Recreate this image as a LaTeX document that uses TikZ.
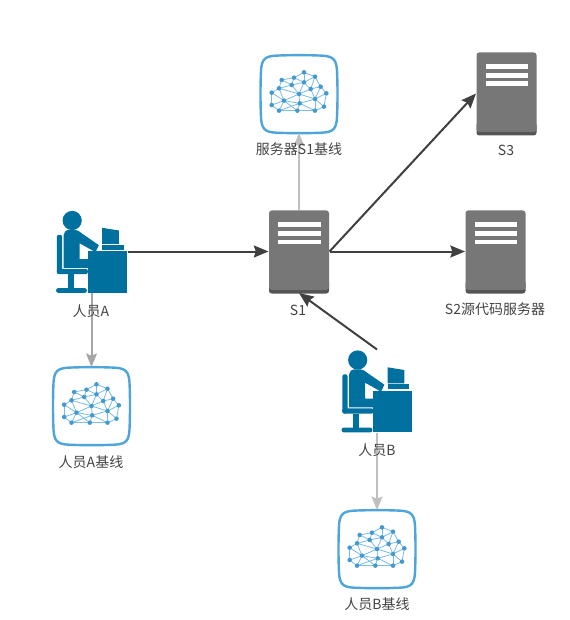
\documentclass[tikz,border=0pt]{standalone}
\usepackage{fontspec}
\setmainfont{Noto Sans CJK SC}
\usetikzlibrary{arrows.meta}
\definecolor{srv}{HTML}{777777}
\definecolor{srvd}{HTML}{555555}
\definecolor{ppl}{HTML}{00709F}
\definecolor{cldl}{HTML}{4EA5DB}
\definecolor{cldn}{HTML}{7ABDE6}
\definecolor{cldd}{HTML}{4499D0}
\definecolor{txt}{HTML}{444444}
\tikzset{
  serverbox/.style={minimum width=45.75pt,minimum height=62.25pt,inner sep=0pt,outer sep=0pt},
  personbox/.style={minimum width=54pt,minimum height=62.25pt,inner sep=0pt,outer sep=0pt},
  cloudbox/.style={minimum width=58pt,minimum height=58.5pt,inner sep=0pt,outer sep=0pt},
  lab/.style={font=\fontsize{10.5pt}{12pt}\selectfont,text=txt,inner sep=0pt},
  darkline/.style={draw=black!75,line width=1.5pt,-{Stealth[length=11pt,width=9pt,inset=1.5pt]}},
  greyline/.style={draw=black!25,line width=1.5pt,-{Stealth[length=10pt,width=8pt,inset=1.5pt]}},
  midline/.style={draw=black!35,line width=1.5pt,-{Stealth[length=10pt,width=8pt,inset=1.5pt]}},
  serverpic/.pic={
    \begin{scope}[x=.25pt,y=-.25pt,shift={(-130,-153)}]
      \fill[srvd,rounded corners=2pt] (40,240) rectangle (220,279);
      \fill[srv,rounded corners=2pt] (40,30) -- (220,30) -- (220,268) -- (40,268) -- cycle;
      \fill[white] (68,65) rectangle (195,80);
      \fill[white] (68,91) rectangle (195,106);
      \fill[white] (68,117) rectangle (195,131);
    \end{scope}
  },
  personpic/.pic={
    \begin{scope}[x=.25pt,y=-.25pt,shift={(-156,-153)}]
      \fill[ppl] (98,60) circle[radius=7.2pt];
      \fill[ppl] (72,104) .. controls (72,95) and (80,88) .. (90,88)
        -- (106,88) .. controls (114,88) and (120,93) .. (126,98)
        -- (178,134) -- (168,155) -- (120,128) -- (120,176) -- (145,176)
        -- (145,202) -- (72,202) -- cycle;
      \fill[ppl,rounded corners=1.5pt] (52,103) rectangle (68,220);
      \fill[ppl,rounded corners=1.5pt] (52,205) rectangle (145,221);
      \fill[ppl] (85,221) rectangle (102,263);
      \fill[ppl,rounded corners=1.5pt] (50,263) rectangle (142,277);
      \fill[ppl] (145,152) rectangle (262,277);
      \fill[ppl] (188,82) -- (238,90) -- (238,130) -- (188,130) -- cycle;
      \fill[ppl] (188,133) rectangle (252,148);
    \end{scope}
  },
  cloudpic/.pic={
    \begin{scope}[x=.25pt,y=-.25pt,shift={(-180,-162)}]
      \draw[cldl,line width=1.8pt] (110,47) .. controls (150,45) and (210,45) .. (250,47)
        .. controls (283,49) and (292,59) .. (294,92)
        .. controls (296,135) and (296,190) .. (294,232)
        .. controls (292,267) and (283,276) .. (250,278)
        .. controls (210,280) and (150,280) .. (110,278)
        .. controls (77,276) and (68,267) .. (66,232)
        .. controls (64,190) and (64,135) .. (66,92)
        .. controls (68,59) and (77,49) .. (110,47) -- cycle;
      \foreach \n/\p in {a/{195,97},b/{228,110},c/{165,113},d/{128,120},e/{158,135},f/{195,127},g/{120,145},h/{245,140},i/{215,147},j/{98,158},k/{180,162},l/{262,160},m/{135,182},n/{228,177},o/{98,195},p/{182,190},q/{255,200},r/{120,212},s/{175,212},t/{228,212}}
        {\coordinate (\n) at (\p);}
      \foreach \u/\v in {a/b,a/c,c/d,d/e,c/e,a/f,b/f,c/f,e/f,d/g,e/g,g/j,b/h,b/i,f/i,h/i,h/l,i/n,f/k,e/k,i/k,k/n,h/n,l/n,g/m,j/m,j/o,m/o,o/r,m/r,m/k,m/p,k/p,p/n,n/q,l/q,p/s,r/s,s/t,t/q,p/t,n/t,m/s,g/k,r/p}
        {\draw[cldn,line width=.6pt] (\u) -- (\v);}
      \foreach \n in {a,b,c,d,e,f,g,h,i,j,k,l,m,n,o,p,q,r,s,t}
        {\fill[cldd] (\n) circle[radius=1.7pt];}
    \end{scope}
  }
}
\begin{document}
\begin{tikzpicture}[x=.75pt,y=-.75pt]
\useasboundingbox (0,0) rectangle (570,620);
\fill[white] (0,0) rectangle (570,620);
% icons
\node[serverbox] (s1) at (299,251.5) {};
\node[serverbox] (s2) at (495.5,251.5) {};
\node[serverbox] (s3) at (506.5,93.5) {};
\node[personbox] (pa) at (91.5,251.5) {};
\node[personbox] (pb) at (377,391) {};
\node[cloudbox] (cs) at (299,94) {};
\node[cloudbox] (ca) at (91.5,406) {};
\node[cloudbox] (cb) at (377,549) {};
\pic at (s1) {serverpic};
\pic at (s2) {serverpic};
\pic at (s3) {serverpic};
\pic at (pa) {personpic};
\pic at (pb) {personpic};
\pic at (cs) {cloudpic};
\pic at (ca) {cloudpic};
\pic at (cb) {cloudpic};
% connectors
\draw[darkline] (pa.east) -- (s1.west);
\draw[darkline] (s1.east) -- (s2.west);
\draw[darkline] (s1.east) -- (s3.west);
\draw[darkline] (pb.north) -- (s1.south);
\draw[greyline] (s1.north) -- (cs.south);
\draw[midline] (pa.south) -- (ca.north);
\draw[greyline] (pb.south) -- (cb.north);
% labels
\node[lab] (ls1) at (298,310) {S1};
\node[lab] (ls2) at (495,309) {S2源代码服务器};
\node[lab] (ls3) at (506,150) {S3};
\node[lab] (lpa) at (91,311) {人员A};
\node[lab] (lpb) at (377,450) {人员B};
\node[lab] (lcs) at (299,149) {服务器S1基线};
\node[lab] (lca) at (91,462) {人员A基线};
\node[lab] (lcb) at (377,604) {人员B基线};
\end{tikzpicture}
\end{document}
